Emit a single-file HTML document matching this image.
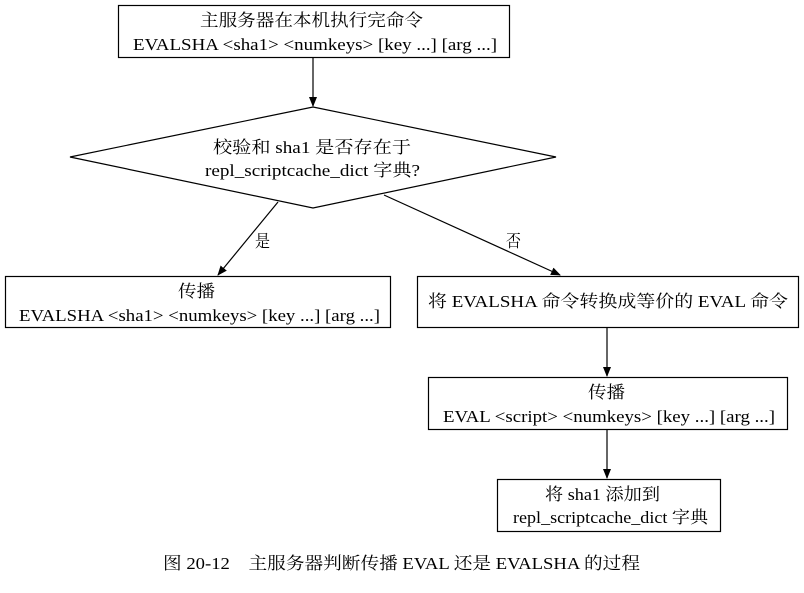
<!DOCTYPE html>
<html><head><meta charset="utf-8"><style>
html,body{margin:0;padding:0;background:#fff;}
svg text{font-family:"Liberation Serif","Noto Serif CJK SC",serif;font-size:17px;fill:#000;}
</style></head><body>
<svg width="804" height="588" viewBox="0 0 804 588" xmlns="http://www.w3.org/2000/svg">
<defs><marker id="a" markerWidth="10" markerHeight="10" refX="9" refY="5" orient="auto" markerUnits="userSpaceOnUse"><path d="M0,1 L10,5 L0,9 z" fill="#000"/></marker></defs>
<g fill="none" stroke="#000" stroke-width="1.2">
<rect x="118.5" y="5.5" width="391" height="52"/>
<polygon points="313,107 556,157 313,208 70,157"/>
<rect x="5.5" y="276.5" width="385" height="51"/>
<rect x="417.5" y="276.5" width="381" height="51"/>
<rect x="428.5" y="377.5" width="359" height="52"/>
<rect x="497.5" y="479.5" width="223" height="52"/>
<line x1="313" y1="57" x2="313" y2="106" marker-end="url(#a)"/>
<line x1="278" y1="202" x2="218" y2="275" marker-end="url(#a)"/>
<line x1="384" y1="195" x2="560" y2="275" marker-end="url(#a)"/>
<line x1="607" y1="328" x2="607" y2="376" marker-end="url(#a)"/>
<line x1="607" y1="430" x2="607" y2="478" marker-end="url(#a)"/>
</g>
<g>
<text x="200" y="26" textLength="223" lengthAdjust="spacingAndGlyphs">主服务器在本机执行完命令</text>
<text x="133" y="50" textLength="364" lengthAdjust="spacingAndGlyphs">EVALSHA &lt;sha1&gt; &lt;numkeys&gt; [key ...] [arg ...]</text>
<text x="213" y="153" textLength="198" lengthAdjust="spacingAndGlyphs">校验和 sha1 是否存在于</text>
<text x="205" y="176" textLength="215" lengthAdjust="spacingAndGlyphs">repl_scriptcache_dict 字典?</text>
<text x="178" y="297" textLength="37" lengthAdjust="spacingAndGlyphs">传播</text>
<text x="19" y="321" textLength="361" lengthAdjust="spacingAndGlyphs">EVALSHA &lt;sha1&gt; &lt;numkeys&gt; [key ...] [arg ...]</text>
<text x="428" y="307" textLength="360" lengthAdjust="spacingAndGlyphs">将 EVALSHA 命令转换成等价的 EVAL 命令</text>
<text x="588" y="398" textLength="37" lengthAdjust="spacingAndGlyphs">传播</text>
<text x="443" y="422" textLength="332" lengthAdjust="spacingAndGlyphs">EVAL &lt;script&gt; &lt;numkeys&gt; [key ...] [arg ...]</text>
<text x="545" y="500" textLength="115" lengthAdjust="spacingAndGlyphs">将 sha1 添加到</text>
<text x="513" y="523" textLength="195" lengthAdjust="spacingAndGlyphs">repl_scriptcache_dict 字典</text>
<text x="255" y="247" textLength="15" lengthAdjust="spacingAndGlyphs">是</text>
<text x="506" y="247" textLength="15" lengthAdjust="spacingAndGlyphs">否</text>
<text x="163" y="569" textLength="477" lengthAdjust="spacingAndGlyphs">图 20-12　主服务器判断传播 EVAL 还是 EVALSHA 的过程</text>
</g>
</svg>
</body></html>
